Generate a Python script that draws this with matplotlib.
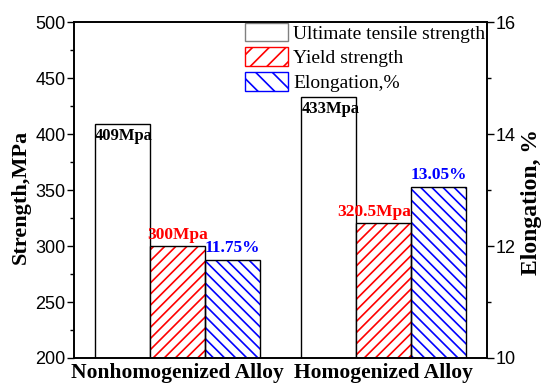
import matplotlib.pyplot as plt
import numpy as np
from matplotlib.patches import Patch
from matplotlib.ticker import MultipleLocator

plt.rcParams['hatch.linewidth'] = 1.2

# data
groups = ["Nonhomogenized Alloy", "Homogenized Alloy"]
uts = [409, 433]            # MPa
yield_s = [300, 320.5]      # MPa
elong = [11.75, 13.05]      # %
uts_lbl = ["409Mpa", "433Mpa"]
ys_lbl = ["300Mpa", "320.5Mpa"]
el_lbl = ["11.75%", "13.05%"]

serif = "Liberation Serif"
sans = "Liberation Sans"

fig = plt.figure(figsize=(5.5, 3.91), dpi=100)
ax = fig.add_axes([0.1345, 0.0844, 0.751, 0.8593])
ax2 = ax.twinx()

x = np.arange(len(groups))
w = 0.266

ax.bar(x - w, uts, w, color="white", edgecolor="black", linewidth=1.0, zorder=2)
ax.bar(x, yield_s, w, color="white", edgecolor="red", linewidth=0, hatch="///", zorder=2)
ax.bar(x, yield_s, w, fill=False, edgecolor="black", linewidth=1.0, zorder=3)
ax2.bar(x + w, elong, w, color="none", edgecolor="blue", linewidth=0, hatch="\\\\\\", zorder=2)
ax2.bar(x + w, elong, w, fill=False, edgecolor="black", linewidth=1.0, zorder=3)

for i in range(len(groups)):
    ax.annotate(uts_lbl[i], (x[i] - 1.5 * w, uts[i]), xytext=(0, -3), textcoords="offset points",
                ha="left", va="top", fontsize=12, fontweight="bold", family=serif, color="black")
    if i == 0:
        ax.annotate(ys_lbl[i], (x[i], yield_s[i]), xytext=(0, 2), textcoords="offset points",
                    ha="center", va="bottom", fontsize=12.5, fontweight="bold", family=serif, color="red")
    else:
        ax.annotate(ys_lbl[i], (x[i] + 0.5 * w, yield_s[i]), xytext=(0, 2), textcoords="offset points",
                    ha="right", va="bottom", fontsize=12.5, fontweight="bold", family=serif, color="red")
    ax2.annotate(el_lbl[i], (x[i] + w, elong[i]), xytext=(0, 3), textcoords="offset points",
                 ha="center", va="bottom", fontsize=12.5, fontweight="bold", family=serif, color="blue")

ax.set_xlim(-0.5, 1.5)
ax.set_ylim(200, 500)
ax2.set_ylim(10, 16)
ax.set_xticks(x)
ax.set_xticklabels(groups, fontsize=15.5, fontweight="bold", family=serif)
ax.tick_params(axis="x", length=0, pad=3.5)
ax.yaxis.set_major_locator(MultipleLocator(50))
ax.yaxis.set_minor_locator(MultipleLocator(25))
ax2.yaxis.set_major_locator(MultipleLocator(2))
ax2.yaxis.set_minor_locator(MultipleLocator(1))
for a in (ax, ax2):
    a.tick_params(axis="y", which="major", length=5, width=1, pad=1, labelsize=13)
    a.tick_params(axis="y", which="minor", length=3, width=1)
    for t in a.get_yticklabels():
        t.set_family(sans)
    for s in a.spines.values():
        s.set_linewidth(1.2)

ax.set_ylabel("Strength,MPa", fontsize=16, fontweight="bold", family=serif)
ax2.set_ylabel("Elongation, %", fontsize=17, fontweight="bold", family=serif)
ax.yaxis.set_label_coords(-0.105, 0.48)
ax2.yaxis.set_label_coords(1.083, 0.463)

handles = [
    Patch(facecolor="white", edgecolor="gray", label="Ultimate tensile strength"),
    Patch(facecolor="white", edgecolor="red", hatch="//", label="Yield strength"),
    Patch(facecolor="white", edgecolor="blue", hatch="\\\\", label="Elongation,%"),
]
leg = ax.legend(handles=handles, loc="upper right", bbox_to_anchor=(1.0, 1.004), frameon=False,
                prop={"family": serif, "size": 14},
                handlelength=2.2, handleheight=1.1, handletextpad=0.25, labelspacing=0.25,
                borderaxespad=0, borderpad=0.1)

fig.savefig("out.png", dpi=100)
